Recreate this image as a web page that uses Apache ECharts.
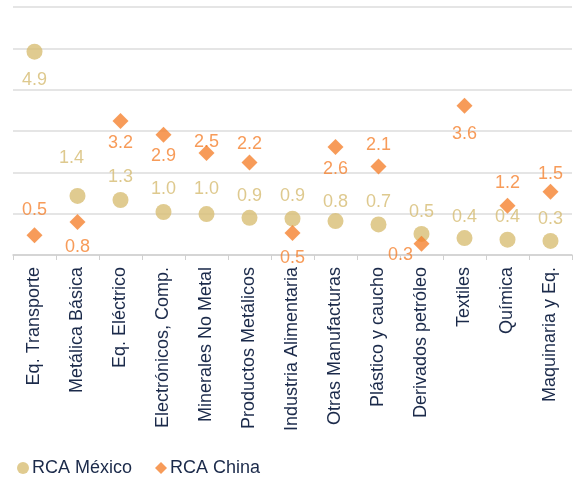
<!DOCTYPE html>
<html>
<head>
<meta charset="utf-8">
<script src="https://cdn.jsdelivr.net/npm/echarts@6/dist/echarts.min.js"></script>
<style>
  html, body { margin: 0; padding: 0; background: #fff; }
  #chart { width: 577px; height: 477px; }
</style>
</head>
<body>
<div id="chart"></div>
<script>
  let categories = [
    'Eq. Transporte', 'Metálica Básica', 'Eq. Eléctrico', 'Electrónicos, Comp.',
    'Minerales No Metal', 'Productos Metálicos', 'Industria Alimentaria',
    'Otras Manufacturas', 'Plástico y caucho', 'Derivados petróleo',
    'Textiles', 'Química', 'Maquinaria y Eq.'
  ]
  let rcaMexico = [4.92, 1.43, 1.33, 1.04, 0.99, 0.9, 0.88, 0.82, 0.74, 0.51, 0.41, 0.37, 0.34]
  let rcaChina = [0.48, 0.8, 3.24, 2.91, 2.47, 2.24, 0.53, 2.61, 2.14, 0.27, 3.61, 1.19, 1.53]

  // label placement (px offsets from the marker centre), style only
  let mxLabelOffset = [[0, 28], [-6, -38], [0, -23], [0, -23], [0, -25], [0, -22], [0, -23],
    [0, -19], [0, -22], [0, -22], [0, -21], [0, -23], [0, -22]]
  let cnLabelOffset = [[0, -25], [0, 25], [0, 22], [0, 21], [0, -11], [0, -18], [0, 25],
    [0, 22], [0, -22], [-21, 11], [0, 28], [0, -23], [0, -18]]

  let goldColor = '#D8BE74'
  let orangeColor = '#F5822F'
  let navy = '#1B2A4A'
  let font = "'Liberation Sans', Arial, sans-serif"

  function withLabels(values, offsets) {
    return values.map(function (v, i) {
      return {value: v, label: {offset: offsets[i]}}
    })
  }

  let chart = echarts.init(document.getElementById('chart'))
  chart.setOption({
    animation: false,
    grid: {left: 13, right: 5, top: 7, bottom: 222},
    legend: {
      left: 12,
      top: 454,
      itemWidth: 12,
      itemHeight: 12,
      itemGap: 23,
      textStyle: {fontFamily: font, fontSize: 18, color: navy, padding: [0, 0, 0, -2]},
      data: [
        {name: 'RCA México', icon: 'circle'},
        {name: 'RCA China', icon: 'diamond'}
      ]
    },
    xAxis: {
      type: 'category',
      data: categories,
      boundaryGap: true,
      axisLine: {lineStyle: {color: '#d0d0d0', width: 1.5}},
      axisTick: {show: true, length: 5, lineStyle: {color: '#d0d0d0'}},
      axisLabel: {
        rotate: 90,
        interval: 0,
        margin: 12,
        fontFamily: font,
        fontSize: 18,
        color: navy
      }
    },
    yAxis: {
      type: 'value',
      min: 0,
      max: 6,
      interval: 1,
      axisLabel: {show: false},
      axisLine: {show: false},
      axisTick: {show: false},
      splitLine: {lineStyle: {color: '#dcdcdc', width: 1.5}}
    },
    series: [
      {
        name: 'RCA México',
        type: 'scatter',
        symbol: 'circle',
        symbolSize: 16,
        itemStyle: {color: goldColor},
        label: {
          show: true,
          position: 'inside',
          fontFamily: font,
          fontSize: 18,
          color: '#D6BC72',
          formatter: function (p) { return p.value.toFixed(1) }
        },
        data: withLabels(rcaMexico, mxLabelOffset)
      },
      {
        name: 'RCA China',
        type: 'scatter',
        symbol: 'diamond',
        symbolSize: 16,
        itemStyle: {color: orangeColor},
        label: {
          show: true,
          position: 'inside',
          fontFamily: font,
          fontSize: 18,
          color: orangeColor,
          formatter: function (p) { return p.value.toFixed(1) }
        },
        data: withLabels(rcaChina, cnLabelOffset)
      }
    ]
  })
</script>
</body>
</html>
